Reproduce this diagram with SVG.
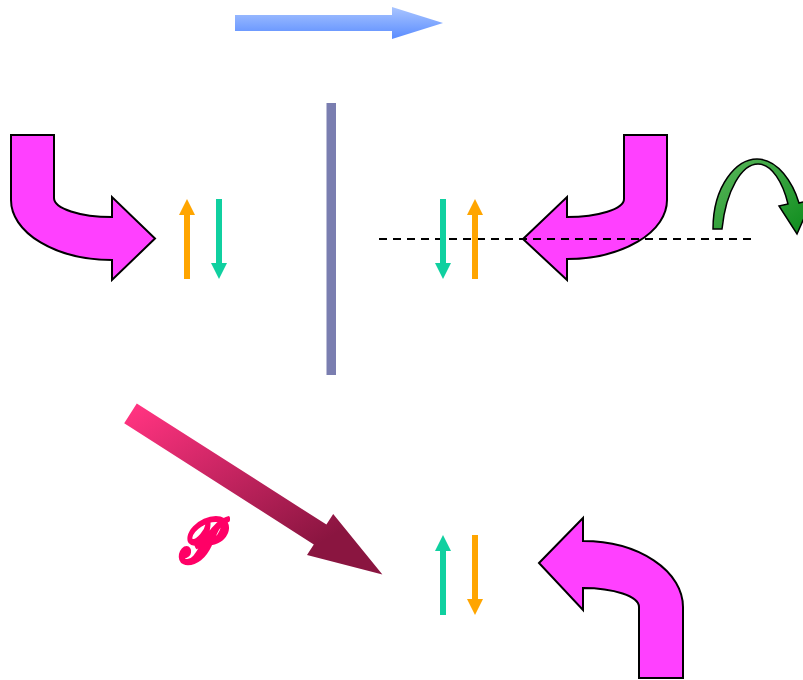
<svg xmlns="http://www.w3.org/2000/svg" width="803" height="680" viewBox="0 0 803 680">
<defs>
<linearGradient id="gBlue" x1="0" y1="0" x2="0" y2="1"><stop offset="0" stop-color="#a9c5ff"/><stop offset="1" stop-color="#5a8cff"/></linearGradient>
<linearGradient id="gPink" gradientUnits="userSpaceOnUse" x1="150" y1="400" x2="260" y2="580"><stop offset="0" stop-color="#ff3380"/><stop offset="1" stop-color="#8a1540"/></linearGradient>
<linearGradient id="gGreen" x1="0" y1="0" x2="1" y2="1"><stop offset="0" stop-color="#5cb85c"/><stop offset="1" stop-color="#0a8a1a"/></linearGradient>
</defs>
<style>
.mag{fill:#ff40ff;stroke:#000;stroke-width:2;stroke-linejoin:miter}
.or{stroke:#ffa500;fill:#ffa500}
.te{stroke:#10d0a0;fill:#10d0a0}
.shaft{stroke-width:6;fill:none}
.head{stroke:none}
</style>
<g id="beam-arrow"><polygon points="235,15 392,15 392,7 443,23 392,39 392,31 235,31" fill="url(#gBlue)"/></g>
<g id="mirror"><rect x="326.5" y="103" width="9.5" height="272" fill="#7a7eb0"/></g>
<g id="left-bent-arrow"><path class="mag" d="M11,135 H54 V198 A58,19 0 0 0 112,217 V197 L155,238.5 L112,280 V260 A101,60 0 0 1 11,200 Z"/></g>
<g id="right-bent-arrow"><path class="mag" d="M667,135 H624 V199 A57,18 0 0 1 567,217 V197 L523,239 L567,280 V259 A100,59 0 0 0 667,200 Z"/></g>
<g id="bottom-bent-arrow"><path class="mag" d="M539,563 L583,518 V541 A100,66 0 0 1 683,607 V678 H639 V607 A56,19 0 0 0 583,588 V610 Z"/></g>
<g id="connectors">
<line x1="379" y1="239" x2="752" y2="239" stroke="#000" stroke-width="2" stroke-dasharray="8,6"/>
</g>
<g id="left-spins">
<line class="or shaft" x1="187" y1="279" x2="187" y2="212"/><polygon class="or head" points="179,215 187,199 195,215"/>
<line class="te shaft" x1="219" y1="199" x2="219" y2="266"/><polygon class="te head" points="211,263 219,279 227,263"/>
</g>
<g id="right-spins">
<line class="te shaft" x1="443" y1="199" x2="443" y2="266"/><polygon class="te head" points="435,263 443,279 451,263"/>
<line class="or shaft" x1="475" y1="279" x2="475" y2="212"/><polygon class="or head" points="467,215 475,199 483,215"/>
</g>
<g id="bottom-spins">
<line class="te shaft" x1="443" y1="615" x2="443" y2="548"/><polygon class="te head" points="435,551 443,535 451,551"/>
<line class="or shaft" x1="475" y1="535" x2="475" y2="602"/><polygon class="or head" points="467,599 475,615 483,599"/>
</g>
<g id="rotation-arrow"><path d="M713,229 C713,185 737,159 757,159 C778,159 793,183 799,203 L812,200 L797,234 L779,206 L788,204 C783,183 772,164 758,164 C742,164 726,190 722,229 Z" fill="url(#gGreen)" stroke="#000" stroke-width="1.5" stroke-linejoin="miter"/></g>
<g id="pink-arrow"><polygon points="136.8,403.4 326.4,524.6 333.2,514.1 382.4,574.4 307,554.9 313.8,544.4 124.2,423.2" fill="url(#gPink)"/></g>
<g id="label-P"><text transform="translate(197,562) scale(0.8,1)" text-anchor="middle" font-family="DejaVu Serif, serif" font-size="62" font-weight="bold" font-style="italic" fill="#ff0066" stroke="#ff0066" stroke-width="2" stroke-linejoin="round">𝓟</text></g>
</svg>
